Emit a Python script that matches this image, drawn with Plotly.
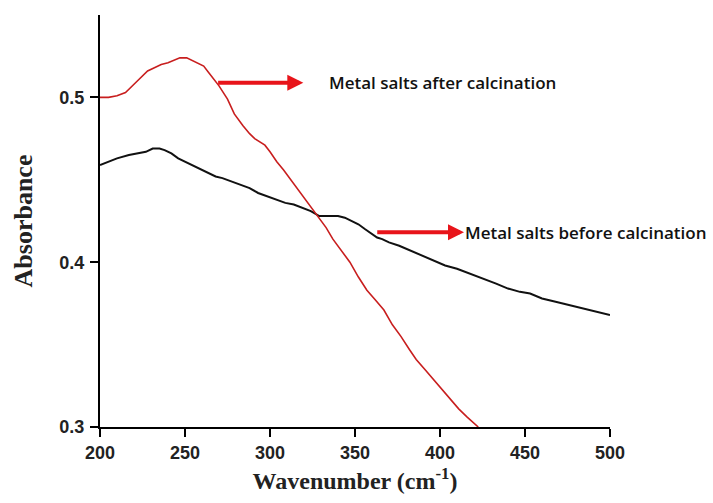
import plotly.graph_objects as go

# Wavenumber (cm-1) and absorbance
after_x = [200, 205, 210, 215, 220, 225, 228, 232, 236, 240, 244, 247, 251, 255, 258, 261, 264, 267, 270,
           275, 279, 284, 288, 291, 294, 297, 300, 304, 308, 313, 318, 323, 328, 333, 337, 342, 347, 352,
           357, 362, 367, 372, 377, 382, 386, 391, 396, 401, 406, 411, 416, 422.5]
after_y = [0.500, 0.500, 0.501, 0.503, 0.508, 0.513, 0.516, 0.518, 0.520, 0.521, 0.523, 0.524, 0.524,
           0.522, 0.520, 0.519, 0.515, 0.511, 0.507, 0.499, 0.490, 0.483, 0.478, 0.475, 0.473, 0.471,
           0.467, 0.461, 0.456, 0.449, 0.442, 0.435, 0.428, 0.421, 0.414, 0.407, 0.400, 0.391, 0.383,
           0.377, 0.371, 0.362, 0.355, 0.347, 0.341, 0.335, 0.329, 0.3225, 0.3164, 0.311, 0.306, 0.300]

before_x = [200, 205, 210, 217, 222, 227, 231, 235, 238, 242, 246, 250, 254, 258, 263, 268, 272, 277, 282,
            288, 293, 298, 304, 309, 314, 319, 324, 329, 332, 336, 340, 344, 348, 352, 356, 360, 363, 366,
            370, 376, 383, 390, 396, 403, 410, 418, 425, 433, 440, 447, 453, 460, 468, 476, 484, 492, 500]
before_y = [0.459, 0.461, 0.463, 0.465, 0.466, 0.467, 0.469, 0.469, 0.468, 0.466, 0.463, 0.461, 0.459,
            0.457, 0.455, 0.452, 0.451, 0.449, 0.447, 0.445, 0.442, 0.440, 0.438, 0.436, 0.435, 0.433,
            0.431, 0.428, 0.428, 0.428, 0.428, 0.427, 0.425, 0.423, 0.420, 0.417, 0.415, 0.414, 0.412,
            0.410, 0.407, 0.404, 0.401, 0.398, 0.396, 0.393, 0.390, 0.387, 0.384, 0.382, 0.381, 0.378,
            0.376, 0.374, 0.372, 0.370, 0.368]

x_ticks = [200, 250, 300, 350, 400, 450, 500]
y_ticks = [0.3, 0.4, 0.5]

labels = ["Metal salts after calcination", "Metal salts before calcination"]
arrow_start_x = [268.6, 362.2]
arrow_end_x = [319.6, 414.1]
arrow_y = [0.5089, 0.4181]
label_x = [333.4, 413.4]

fig = go.Figure()
fig.add_trace(go.Scatter(x=before_x, y=before_y, mode="lines",
                         line=dict(color="#111111", width=2), showlegend=False, hoverinfo="skip"))
fig.add_trace(go.Scatter(x=after_x, y=after_y, mode="lines",
                         line=dict(color="#c81e1e", width=1.6), showlegend=False, hoverinfo="skip"))

for i in range(2):
    fig.add_annotation(x=arrow_end_x[i], y=arrow_y[i], ax=arrow_start_x[i], ay=arrow_y[i],
                       xref="x", yref="y", axref="x", ayref="y", text="", showarrow=True,
                       arrowhead=2, arrowsize=0.8, arrowwidth=4, arrowcolor="#e8141a")
    fig.add_annotation(x=label_x[i], y=arrow_y[i], xref="x", yref="y", text=labels[i],
                       showarrow=False, xanchor="left", yanchor="middle",
                       font=dict(family="Open Sans", size=17, color="#111111", weight=600))

axis_common = dict(showline=True, linecolor="black", linewidth=2, ticks="outside", ticklen=8,
                   tickwidth=2, tickcolor="black", showgrid=False, zeroline=False,
                   tickfont=dict(family="Liberation Sans", size=18, color="#222222", weight="bold"))

fig.update_layout(
    width=713, height=503,
    margin=dict(l=100, r=103, t=15, b=76, autoexpand=False),
    paper_bgcolor="white", plot_bgcolor="white",
    xaxis=dict(range=[200, 500], tickvals=x_ticks, ticktext=[str(v) for v in x_ticks],
               ticklabelstandoff=0,
               title=dict(text="<b>Wavenumber (cm<sup>-1</sup>)</b>", standoff=11,
                          font=dict(family="Liberation Serif", size=24, color="#222222")),
               **axis_common),
    yaxis=dict(range=[0.3, 0.55], tickvals=y_ticks, ticktext=[f"{v:.1f}" for v in y_ticks],
               ticklabelstandoff=2,
               title=dict(text="<b>Absorbance</b>", standoff=19,
                          font=dict(family="Liberation Serif", size=26, color="#222222")),
               **axis_common),
)

fig.write_html("out.html")
